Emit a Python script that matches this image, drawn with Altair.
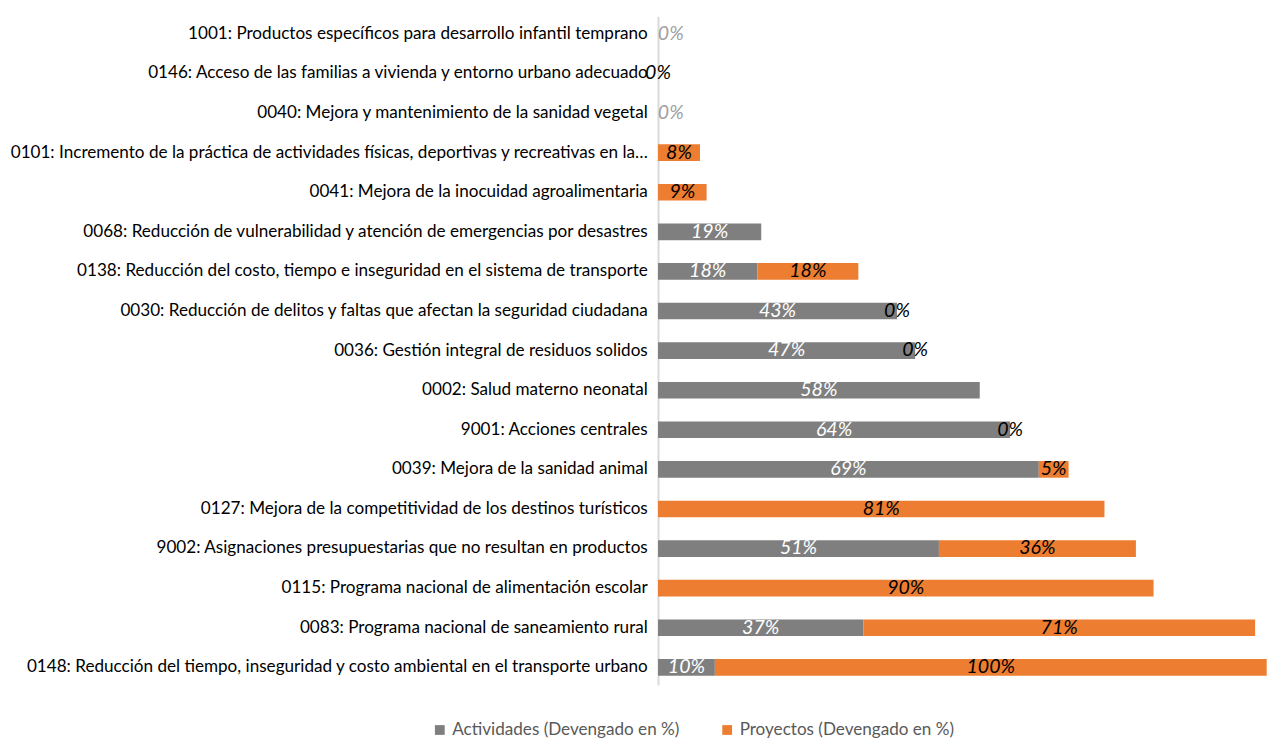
import altair as alt
import pandas as pd

categories = [
    "1001: Productos específicos para desarrollo infantil temprano",
    "0146: Acceso de las familias a vivienda y entorno urbano adecuado",
    "0040: Mejora y mantenimiento de la sanidad vegetal",
    "0101: Incremento de la práctica de actividades físicas, deportivas y recreativas en la…",
    "0041: Mejora de la inocuidad agroalimentaria",
    "0068: Reducción de vulnerabilidad y atención de emergencias por desastres",
    "0138: Reducción del costo, tiempo e inseguridad en el sistema de transporte",
    "0030: Reducción de delitos y faltas que afectan la seguridad ciudadana",
    "0036: Gestión integral de residuos solidos",
    "0002: Salud materno neonatal",
    "9001: Acciones centrales",
    "0039: Mejora de la sanidad animal",
    "0127: Mejora de la competitividad de los destinos turísticos",
    "9002: Asignaciones presupuestarias que no resultan en productos",
    "0115: Programa nacional de alimentación escolar",
    "0083: Programa nacional de saneamiento rural",
    "0148: Reducción del tiempo, inseguridad y costo ambiental en el transporte urbano",
]
actividades = [0, None, 0, None, None, 18.7, 18.0, 43.3, 46.6, 58.3, 63.8, 69.0, None, 50.9, None, 37.2, 10.3]
proyectos = [None, 0, None, 7.6, 8.8, None, 18.3, 0, 0, None, 0, 5.4, 80.9, 35.7, 89.8, 71.0, 100.0]

series_names = ["Actividades (Devengado en %)", "Proyectos (Devengado en %)"]
series_colors = ["#7f7f7f", "#ed7d31"]

rows = []
for cat, a, p in zip(categories, actividades, proyectos):
    start = 0.0
    if a is not None:
        rows.append(dict(cat=cat, serie=series_names[0], x0=0.0, x1=a, mid=a / 2,
                         lab=f"{round(a):.0f}%",
                         tcol="#a0a0a0" if a == 0 else "#ffffff",
                         dx=13 if a == 0 else 0))
        start = a
    if p is not None:
        rows.append(dict(cat=cat, serie=series_names[1], x0=start, x1=start + p,
                         mid=start + p / 2, lab=f"{round(p):.0f}%",
                         tcol="#000000", dx=0))
df = pd.DataFrame(rows)

FONT = "Lato"

y_enc = alt.Y("cat:N", sort=categories, title=None,
              scale=alt.Scale(paddingInner=0.58, paddingOuter=0.234),
              axis=alt.Axis(domain=True, domainColor="#d9d9d9", domainWidth=2,
                            ticks=False, tickSize=0, labelFontSize=17.5, labelColor="#000000",
                            labelFont=FONT, labelPadding=11, labelLimit=800, grid=False,
                            minExtent=644, maxExtent=644))
x_scale = alt.Scale(domain=[0, 110], nice=False)

bars = alt.Chart(df).mark_bar().encode(
    y=y_enc,
    x=alt.X("x0:Q", scale=x_scale, axis=None),
    x2="x1:Q",
    color=alt.Color("serie:N", scale=alt.Scale(domain=series_names, range=series_colors),
                    legend=alt.Legend(title=None, orient="none", direction="horizontal",
                                      legendX=-232, legendY=721,
                                      symbolType="square", symbolSize=100,
                                      symbolStrokeWidth=0, labelLimit=400, labelOffset=4,
                                      labelFontSize=17.5, labelColor="#595959",
                                      labelFont=FONT, columnPadding=40)),
)

def label_layer(dxv):
    return alt.Chart(df[df["dx"] == dxv]).mark_text(
        fontStyle="italic", fontSize=20, font=FONT, align="center", baseline="middle", dx=dxv
    ).encode(
        y=alt.Y("cat:N", sort=categories),
        x=alt.X("mid:Q", scale=x_scale),
        text="lab:N",
        color=alt.Color("tcol:N", scale=None),
    )

chart = alt.layer(bars, label_layer(0), label_layer(13)).properties(
    width=621, height=684,
    padding={"left": 0, "top": 0, "right": 0, "bottom": 0},
).configure_view(stroke=None)

chart.save("out.html", embed_options={"renderer": "svg", "actions": False})
